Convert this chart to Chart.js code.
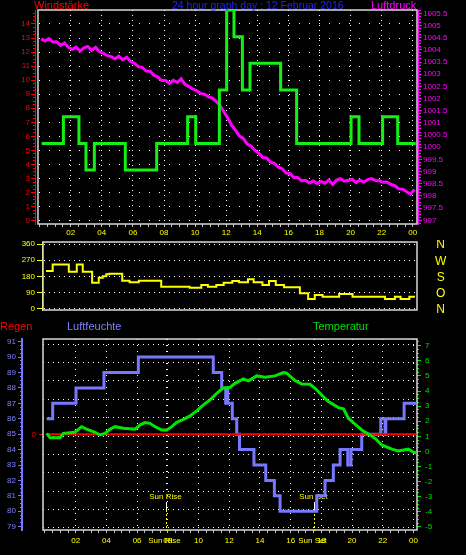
<!DOCTYPE html>
<html><head><meta charset="utf-8">
<script src="https://cdn.jsdelivr.net/npm/chart.js@4.4.1/dist/chart.umd.min.js"></script>
<style>
html,body{margin:0;padding:0;background:#000;}
body{width:466px;height:555px;position:relative;overflow:hidden;font-family:'Liberation Sans',Arial,sans-serif;}
canvas{position:absolute;left:0;}
.t{position:absolute;white-space:nowrap;font-size:11px;line-height:11px;z-index:2;}
</style></head><body>
<canvas id="c1" width="466" height="240" style="top:0px"></canvas>
<canvas id="c2" width="466" height="76" style="top:240px"></canvas>
<canvas id="c3" width="466" height="239" style="top:316px"></canvas>
<div class="t" style="left:34px;top:0px;color:#ff0000">Windstärke</div>
<div class="t" style="left:172px;top:0px;color:#2424e8;font-size:10.5px">24 hour graph day : 12 Februar 2016</div>
<div class="t" style="left:371px;top:0px;color:#ff00ff">Luftdruck</div>
<div class="t" style="left:0px;top:321px;color:#ff0000">Regen</div>
<div class="t" style="left:67px;top:321px;color:#8080ff">Luftfeuchte</div>
<div class="t" style="left:313px;top:321px;color:#00e000">Temperatur</div>
<script>
// ---------- data ----------
const HOUR_TICKS  = [2,4,6,8,10,12,14,16,18,20,22,24];
const HOUR_LABELS = ['02','04','06','08','10','12','14','16','18','20','22','00'];

const WIND_HOURS = [0.13,1.53,2.53,2.98,3.52,5.51,7.53,9.52,10.04,11.56,12.03,12.5,13.04,13.53,15.5,16.53,20.03,20.54,22.06,23.03,24.19];
const WIND       = [5.5,7.4,5.5,3.6,5.5,3.6,5.5,7.4,5.5,9.3,15.0,13.1,9.3,11.2,9.3,5.5,7.4,5.5,7.4,5.5,5.5];

const PRESS_START = 0.1, PRESS_STEP = 0.25;
const PRESSURE = [1004.45,1004.36,1004.46,1004.32,1004.33,1004.18,1004.28,1004.10,1004.02,1004.11,
  1003.95,1004.08,1004.14,1003.98,1004.10,1003.92,1003.86,1003.76,1003.72,1003.63,
  1003.74,1003.59,1003.70,1003.52,1003.45,1003.31,1003.28,1003.13,1003.12,1002.96,
  1002.88,1002.74,1002.74,1002.62,1002.75,1002.66,1002.81,1002.58,1002.49,1002.39,
  1002.32,1002.21,1002.18,1002.08,1002.02,1001.88,1001.72,1001.46,1001.20,1000.90,
  1000.70,1000.46,1000.36,1000.13,1000.04,999.87,999.75,999.58,999.56,999.39,
  999.34,999.18,999.12,998.94,998.92,998.76,998.76,998.62,998.64,998.53,
  998.61,998.51,998.60,998.52,998.65,998.47,998.65,998.71,998.61,998.63,
  998.69,998.55,998.65,998.57,998.67,998.71,998.63,998.62,998.56,998.56,
  998.47,998.42,998.29,998.28,998.17,998.08,998.26];

const DIR_HOURS = [0.07,0.5,1.55,2.07,2.46,3.07,3.5,3.76,3.99,4.2,5.03,5.51,6.11,7.57,9.42,10.18,10.61,11.16,11.64,12.2,12.64,13.22,13.59,14.16,14.59,15.03,15.57,16.6,17.14,17.57,18.08,19.16,20.03,22.14,22.79,23.16,23.73,24.1];
const DIR       = [210,247,206,247,206,144,172,180,191,195,155,146,155,121,116,131,121,131,144,153,146,163,146,131,153,131,118,84,52,75,65,80,65,52,65,52,65,65];
const DIR_TICKS = [0,90,180,270,360];
const DIR_NAMES = ['N','O','S','W','N'];

const HUM_HOURS = [0.11,0.5,2.02,3.84,6.08,10.96,11.51,11.77,11.85,11.9,12.2,12.49,12.67,13.61,14.38,14.94,15.31,17.7,18.24,18.78,19.22,19.72,19.93,20.63,21.87,22.15,22.2,23.39,24.2];
const HUM       = [86,87,88,89,90,89,88,87,88,87,86,85,84,83,82,81,80,81,82,83,84,83,84,85,86,85,86,87,87];

const TEMP_HOURS = [0.11,0.33,0.98,1.2,1.95,2.39,2.71,3.26,3.58,3.91,4.23,4.56,5.11,5.86,6.19,6.51,6.84,7.17,7.6,7.93,8.26,8.58,9.02,9.45,9.88,10.32,10.75,11.19,11.58,12.06,12.38,12.92,13.25,13.79,14.33,14.98,15.53,15.74,16.28,16.72,17.26,17.59,18.02,18.46,19.11,19.44,19.76,20.2,20.63,21.06,21.5,21.93,22.59,23.02,23.67,24.0,24.2];
const TEMP       = [1.2,0.91,0.91,1.2,1.27,1.64,1.47,1.27,1.09,1.2,1.47,1.64,1.54,1.47,1.75,1.91,1.86,1.64,1.42,1.42,1.64,1.93,2.13,2.35,2.68,3.08,3.41,3.85,4.18,4.25,4.51,4.8,4.67,5.0,4.91,5.0,5.22,5.18,4.69,4.47,4.45,4.18,3.74,3.3,2.9,2.82,2.2,1.8,1.42,1.16,0.87,0.43,0.15,0.03,0.15,-0.05,-0.1];

const RAIN_HOURS = [0.11,24.2];
const RAIN       = [0,0];
const RAIN_TICKS = [0];

const SUN_HOURS  = [7.86,17.54];
const SUN_LABELS = ['Sun Rise','Sun Set'];

// ---------- helpers ----------
Chart.defaults.font.family = "'Liberation Sans', Arial, sans-serif";
Chart.defaults.font.size = 8;
const T = 'rgba(0,0,0,0)';
const near = (v, m) => Math.abs(v / m - Math.round(v / m)) < 1e-6;
const hourIdx = v => HOUR_TICKS.findIndex(h => Math.abs(h - v) < 1e-6);
const fit = (w, h) => s => {
  if (w != null) s.width = w;
  if (h != null) s.height = h;
  s.paddingTop = 0; s.paddingBottom = 0; s.paddingLeft = 0; s.paddingRight = 0;
};
const spacer = (pos, w, weight) => ({
  type: 'linear', position: pos, weight, display: true,
  grid: {display: false, drawTicks: false}, border: {display: false},
  ticks: {display: false}, afterFit: fit(w, null)
});
const pts = (xs, ys) => xs.map((x, i) => ({x, y: ys[i]}));
const base = {responsive: false, animation: false, events: [],
  plugins: {legend: {display: false}, tooltip: {enabled: false}}};

const boxPlugin = {id: 'box', beforeDatasetsDraw(chart) {
  const {ctx, chartArea: a} = chart;
  ctx.save();
  ctx.strokeStyle = '#d9d9d9'; ctx.lineWidth = 1.5;
  ctx.strokeRect(a.left, a.top, a.right - a.left, a.bottom - a.top);
  ctx.restore();
}};

const sunPlugin = {id: 'sun', beforeDatasetsDraw(chart) {
  const {ctx, chartArea: a, scales: {x}} = chart;
  ctx.save();
  SUN_HOURS.forEach((h, i) => {
    const px = Math.round(x.getPixelForValue(h)) + 0.5;
    ctx.lineWidth = 1;
    ctx.strokeStyle = '#ffffff'; ctx.setLineDash([1, 5]);
    ctx.beginPath(); ctx.moveTo(px, a.top); ctx.lineTo(px, a.bottom - 40); ctx.stroke();
    ctx.setLineDash([]);
    ctx.beginPath(); ctx.moveTo(px, a.bottom - 28); ctx.lineTo(px, a.bottom - 20); ctx.stroke();
    ctx.strokeStyle = '#ffff00'; ctx.setLineDash([2, 2]);
    ctx.beginPath(); ctx.moveTo(px, a.bottom - 20); ctx.lineTo(px, a.bottom + 1); ctx.stroke();
    ctx.setLineDash([]);
    ctx.fillStyle = '#ffff00'; ctx.font = "8px 'Liberation Sans'";
    ctx.textAlign = 'center'; ctx.textBaseline = 'middle';
    ctx.fillText(SUN_LABELS[i], px - 1, a.bottom - 33);
    ctx.fillText(SUN_LABELS[i], px - 2, a.bottom + 11);
  });
  ctx.restore();
}};

function hourAxis(min, max, h, pad, dash) {
  return {type: 'linear', position: 'bottom', min, max,
    ticks: {stepSize: 0.5, autoSkip: false, maxRotation: 0, minRotation: 0, includeBounds: false,
      color: '#ffff00', padding: pad,
      callback: v => { const i = hourIdx(v); return i >= 0 ? HOUR_LABELS[i] : ''; }},
    grid: {color: c => hourIdx(c.tick.value) >= 0 ? '#ffffff' : T, tickColor: '#bdbdbd', tickLength: 3, lineWidth: 1},
    border: {display: false, dash},
    afterFit: fit(null, h)};
}

// ---------- top chart: wind speed & pressure ----------
new Chart(document.getElementById('c1'), {
  type: 'line',
  data: {datasets: [
    {data: pts(WIND_HOURS, WIND), yAxisID: 'yW', borderColor: '#14f014', borderWidth: 3, stepped: true, pointRadius: 0},
    {data: PRESSURE.map((p, i) => ({x: PRESS_START + i * PRESS_STEP, y: p})), yAxisID: 'yP',
      borderColor: '#ff00ff', borderWidth: 3, pointRadius: 0}
  ]},
  options: {...base, layout: {padding: {top: 10, bottom: 0, left: 0, right: 0}},
    scales: {
      x: hourAxis(-0.103, 24.27, 16, 1, [1, 4]),
      yW: {type: 'linear', position: 'left', weight: 10, min: -0.235, max: 14.996,
        ticks: {stepSize: 0.25, autoSkip: false, includeBounds: false, color: '#ff0000', padding: 1,
          callback: v => near(v, 1) ? String(Math.round(v)) : ''},
        grid: {color: c => near(c.tick.value, 1) ? '#ffffff' : T, tickColor: '#ff0000', tickLength: 4,
          tickBorderDash: c => near(c.tick.value, 1) ? [] : [0, 2, 2, 50]},
        border: {display: true, color: '#ff0000', width: 1, dash: [1, 9]},
        afterFit: fit(35, null)},
      sL: spacer('left', 3, 0),
      sR: spacer('right', 1, 0),
      yP: {type: 'linear', position: 'right', weight: 10, min: 996.848, max: 1005.636,
        ticks: {stepSize: 0.125, autoSkip: false, includeBounds: false, color: '#ff00ff', padding: 1,
          callback: v => near(v, 0.5) ? String(Math.round(v * 2) / 2) : ''},
        grid: {drawOnChartArea: false, tickColor: '#ff00ff', tickLength: 4,
          tickBorderDash: c => near(c.tick.value, 0.5) ? [] : [2, 50]},
        border: {display: true, color: '#ff00ff', width: 1},
        afterFit: fit(48, null)}
    }},
  plugins: [boxPlugin]
});

// ---------- middle chart: wind direction ----------
new Chart(document.getElementById('c2'), {
  type: 'line',
  data: {datasets: [
    {data: pts(DIR_HOURS, DIR), yAxisID: 'yD', borderColor: '#ffff00', borderWidth: 2, stepped: true, pointRadius: 0}
  ]},
  options: {...base, layout: {padding: {top: 2, bottom: 6, left: 0, right: 0}},
    scales: {
      x: {type: 'linear', display: false, min: -0.13, max: 24.23},
      yD: {type: 'linear', position: 'left', weight: 10, min: -9.56, max: 372.9,
        ticks: {stepSize: 90, autoSkip: false, includeBounds: false, color: '#ffff00', padding: 2, callback: v => String(v)},
        grid: {color: '#ffffff', tickColor: '#ffff00', tickLength: 5},
        border: {display: true, color: '#ffff00', width: 1, dash: [1, 4]},
        afterFit: fit(42, null)},
      sL: spacer('left', 1, 0),
      yN: {type: 'linear', position: 'right', min: 0, max: 376.6,
        afterBuildTicks: s => { s.ticks = DIR_TICKS.map(v => ({value: v})); },
        ticks: {autoSkip: false, color: '#ffff00', font: {size: 12}, padding: 10, crossAlign: 'center',
          callback: (v, i) => DIR_NAMES[i]},
        grid: {display: false}, border: {display: false},
        afterFit: fit(49, null)}
    }},
  plugins: [boxPlugin]
});

// ---------- bottom chart: rain, humidity, temperature ----------
new Chart(document.getElementById('c3'), {
  type: 'line',
  data: {datasets: [
    {data: pts(TEMP_HOURS, TEMP), yAxisID: 'yT', borderColor: '#00e600', borderWidth: 3, pointRadius: 0},
    {data: pts(RAIN_HOURS, RAIN), yAxisID: 'yR', borderColor: '#ff0000', borderWidth: 2, pointRadius: 0},
    {data: pts(HUM_HOURS, HUM), yAxisID: 'yH', borderColor: '#7878ff', borderWidth: 3, stepped: true, pointRadius: 0}
  ]},
  options: {...base, layout: {padding: {top: 23, bottom: 0, left: 0, right: 0}},
    scales: {
      x: hourAxis(-0.13, 24.23, 25, 3, [1, 5]),
      yH: {type: 'linear', position: 'left', weight: 10, min: 78.786, max: 91.175,
        ticks: {stepSize: 0.25, autoSkip: false, includeBounds: false, color: '#8080ff', padding: 2,
          callback: v => near(v, 1) ? String(Math.round(v)) : ''},
        grid: {drawOnChartArea: false, tickColor: '#7878ff', tickLength: 4,
          tickBorderDash: c => near(c.tick.value, 1) ? [] : [0, 2, 2, 50]},
        border: {display: true, color: '#7878ff', width: 2},
        afterFit: fit(22, null)},
      yR: {type: 'linear', position: 'left', weight: 0, min: -9.57, max: 9.53,
        afterBuildTicks: s => { s.ticks = RAIN_TICKS.map(v => ({value: v})); },
        ticks: {autoSkip: false, color: '#ff0000', padding: 3, callback: v => String(v)},
        grid: {drawOnChartArea: false, tickColor: '#ff0000', tickLength: 4},
        border: {display: false},
        afterFit: fit(21, null)},
      yG: {type: 'linear', position: 'right', weight: 0, min: -0.125, max: 10.289,
        ticks: {display: false, autoSkip: false, stepSize: 1, includeBounds: false},
        grid: {color: '#ffffff', drawTicks: false},
        border: {display: false, dash: [1, 4]},
        afterFit: fit(0, null)},
      yT: {type: 'linear', position: 'right', weight: 10, min: -5.199, max: 7.443,
        ticks: {stepSize: 0.25, autoSkip: false, includeBounds: false, color: '#00e000', padding: 4,
          callback: v => near(v, 1) ? String(Math.round(v)) : ''},
        grid: {drawOnChartArea: false, tickColor: '#00e000', tickLength: 4,
          tickBorderDash: c => near(c.tick.value, 1) ? [] : [2, 50]},
        border: {display: false},
        afterFit: fit(49, null)}
    }},
  plugins: [boxPlugin, sunPlugin]
});
</script>
</body></html>
